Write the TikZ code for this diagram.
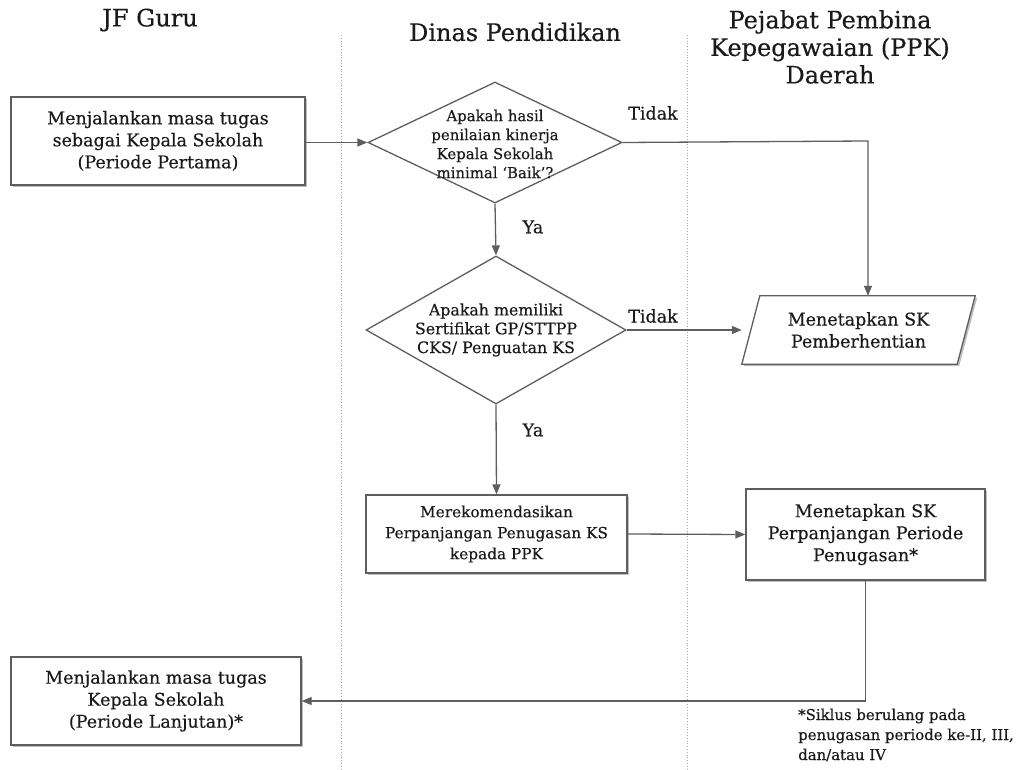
\documentclass[tikz,border=0pt]{standalone}
\usepackage{fontspec}
\setmainfont{DejaVu Serif}[FakeBold=0.35]
\usetikzlibrary{arrows.meta,shapes.geometric,shadows}
\definecolor{linegray}{HTML}{5E5E5E}
\definecolor{txt}{HTML}{1A1A1A}
\begin{document}
\begin{tikzpicture}[x=1pt,y=-1pt,
  line/.style={draw=linegray, line width=1.3pt},
  arr/.style={line, -{Triangle[length=10pt,width=8pt]}},
  shad/.style={drop shadow={shadow xshift=2pt,shadow yshift=-2pt,opacity=0.25,fill=black}},
  box/.style={draw=linegray, line width=1.3pt, fill=white, shad, inner sep=0pt, align=center, text=txt},
  dia/.style={diamond, draw=linegray, line width=1.3pt, fill=white, inner sep=0pt, aspect=1},
  ghost/.style={inner sep=0pt},
  lbl/.style={align=center, text=txt, inner sep=0pt},
  bodyA/.style={font=\fontsize{17.5}{22}\selectfont},
  bodyD/.style={font=\fontsize{14.9}{19}\selectfont},
  bodyE/.style={font=\fontsize{15.8}{18.8}\selectfont},
  bodyC/.style={font=\fontsize{15.3}{21}\selectfont},
  head/.style={font=\fontsize{24}{27.5}\selectfont, align=center, text=txt, inner sep=0pt},
  lane/.style={draw=gray!70, line width=0.8pt, dotted}
]
\useasboundingbox (0,0) rectangle (1021,770);
% lanes
\coordinate (l1t) at (341,35); \coordinate (l1b) at (341,770);
\coordinate (l2t) at (687,35); \coordinate (l2b) at (687,770);
\draw[lane] (l1t) -- (l1b);
\draw[lane] (l2t) -- (l2b);
% headings
\node[head] (h1) at (150,20) {JF Guru};
\node[head] (h2) at (515,32) {Dinas Pendidikan};
\node[head] (h3) at (830,47) {Pejabat Pembina\\Kepegawaian (PPK)\\Daerah};
% shapes
\node[box, bodyA, minimum width=294pt, minimum height=88pt] (b1) at (158,141)
  {Menjalankan masa tugas\\sebagai Kepala Sekolah\\(Periode Pertama)};
\node[dia, minimum width=254pt, minimum height=121pt] (d1) at (495,142.5) {};
\node[lbl, bodyD] (t1) at (495,144) {Apakah hasil\\penilaian kinerja\\Kepala Sekolah\\minimal ‘Baik’?};
\node[dia, minimum width=260pt, minimum height=148pt] (d2) at (496,330) {};
\node[lbl, bodyE] (t2) at (496,330) {Apakah memiliki\\Sertifikat GP/STTPP\\CKS/ Penguatan KS};
\node[ghost, minimum width=215pt, minimum height=68pt] (pg) at (858.5,330) {};
\fill[black, opacity=0.25] ([xshift=9pt+2pt,yshift=-2pt]pg.north west) -- ([xshift=9pt+2pt,yshift=-2pt]pg.north east)
  -- ([xshift=-9pt+2pt,yshift=-2pt]pg.south east) -- ([xshift=-9pt+2pt,yshift=-2pt]pg.south west) -- cycle;
\draw[line, fill=white] ([xshift=9pt]pg.north west) -- ([xshift=9pt]pg.north east)
  -- ([xshift=-9pt]pg.south east) -- ([xshift=-9pt]pg.south west) -- cycle;
\node[lbl, bodyA] (tpg) at (pg.center) {Menetapkan SK\\Pemberhentian};
\node[box, bodyC, minimum width=261pt, minimum height=78pt] (b3) at (496.5,534)
  {Merekomendasikan\\Perpanjangan Penugasan KS\\kepada PPK};
\node[box, bodyA, minimum width=239pt, minimum height=91pt] (b4) at (865.5,534.5)
  {Menetapkan SK\\Perpanjangan Periode\\Penugasan*};
\node[box, bodyA, minimum width=290pt, minimum height=88pt] (b5) at (156,701)
  {Menjalankan masa tugas\\Kepala Sekolah\\(Periode Lanjutan)*};
% connectors
\coordinate (c1) at (868,141);
\coordinate (c2) at (865.5,701);
\draw[arr] (b1.east |- d1.west) -- (d1.west);
\draw[arr] (d1.east) -- (c1) -- (c1 |- pg.north);
\draw[arr] (d1.south) -- (d2.north);
\draw[arr] (d2.east) -- ([xshift=-9pt]pg.west);
\draw[arr] (d2.south) -- (b3.north);
\draw[arr] (b3.east) -- (b4.west);
\draw[arr] (b4.south) -- (c2) -- (c2 -| b5.east);
% labels
\node[lbl, bodyA] (n1) at (653,113) {Tidak};
\node[lbl, bodyA] (n2) at (653,316) {Tidak};
\node[lbl, bodyA] (y1) at (533,227) {Ya};
\node[lbl, bodyA] (y2) at (533,430) {Ya};
\node[lbl, font=\fontsize{14.9}{20}\selectfont, align=left, anchor=base west] (note) at (798,760)
  {*Siklus berulang pada\\penugasan periode ke-II, III,\\dan/atau IV};
\end{tikzpicture}
\end{document}
